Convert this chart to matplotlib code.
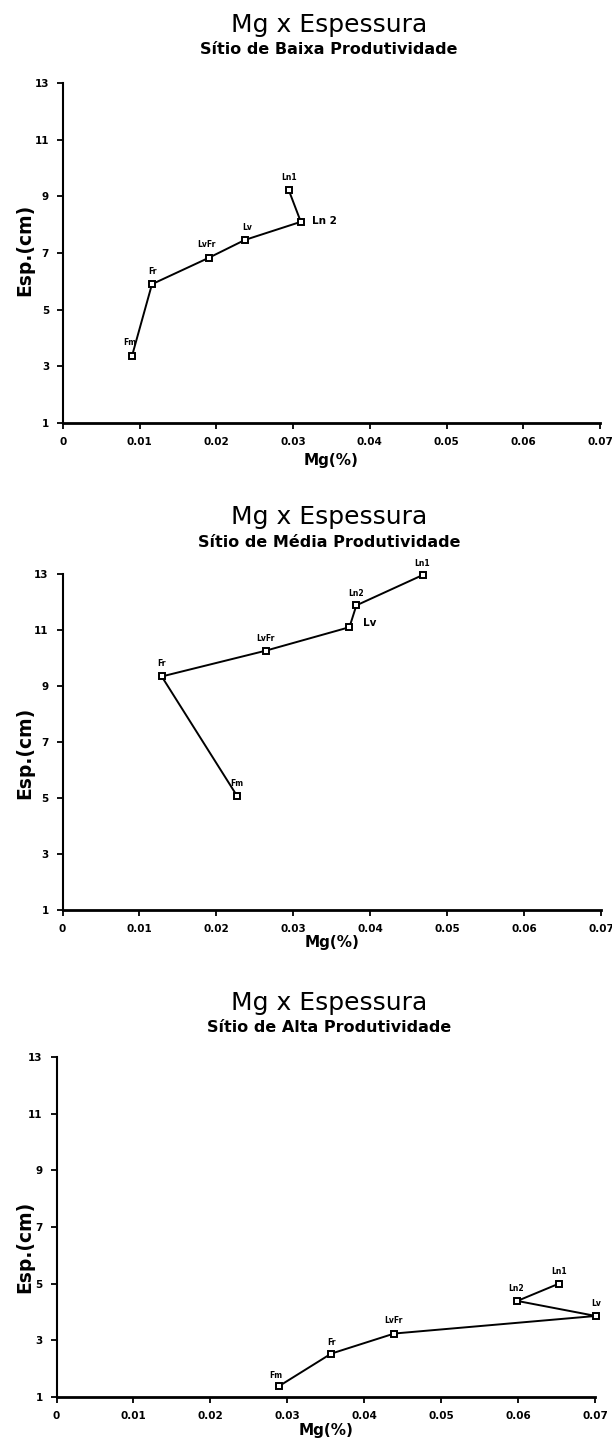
import matplotlib
matplotlib.use("Agg")
import matplotlib.pyplot as plt

W, H = 612, 1448

# --- data (order along the line) ---------------------------------------------
CAMADAS = ["Fm", "Fr", "LvFr", "Lv", "Ln2", "Ln1"]

MG_BAIXA = [0.0090, 0.0116, 0.0190, 0.0237, 0.0310, 0.0294]
ESP_BAIXA = [3.37, 5.90, 6.83, 7.46, 8.10, 9.24]

MG_MEDIA = [0.0227, 0.0129, 0.0264, 0.0373, 0.0382, 0.0468]
ESP_MEDIA = [5.07, 9.34, 10.26, 11.10, 11.88, 12.96]

MG_ALTA = [0.0289, 0.0357, 0.0439, 0.0701, 0.0599, 0.0653]
ESP_ALTA = [1.38, 2.53, 3.24, 3.86, 4.39, 5.00]

X_TICKS = [0, 0.01, 0.02, 0.03, 0.04, 0.05, 0.06, 0.07]
X_TICKLABELS = ["0", "0.01", "0.02", "0.03", "0.04", "0.05", "0.06", "0.07"]
Y_TICKS = [1, 3, 5, 7, 9, 11, 13]

TITULO = "Mg x Espessura"
SUBTITULOS = ["Sítio de Baixa Produtividade",
              "Sítio de Média Produtividade",
              "Sítio de Alta Produtividade"]

# label placement per panel: name -> (dx px, dy px, ha, fontsize, text)
LBL_BAIXA = {"Fm": (-2, 13, "center", 5.5, "Fm"), "Fr": (1, 13, "center", 5.5, "Fr"),
             "LvFr": (-2, 13, "center", 5.5, "LvFr"), "Lv": (2, 12, "center", 5.5, "Lv"),
             "Ln2": (11, 1, "left", 7.5, "Ln 2"), "Ln1": (1, 12, "center", 5.5, "Ln1")}
LBL_MEDIA = {"Fm": (0, 13, "center", 5.5, "Fm"), "Fr": (0, 13, "center", 5.5, "Fr"),
             "LvFr": (0, 12, "center", 5.5, "LvFr"), "Lv": (14, 4, "left", 7.5, "Lv"),
             "Ln2": (0, 12, "center", 5.5, "Ln2"), "Ln1": (0, 12, "center", 5.5, "Ln1")}
LBL_ALTA = {"Fm": (-3, 11, "center", 5.5, "Fm"), "Fr": (0, 11, "center", 5.5, "Fr"),
            "LvFr": (-1, 13, "center", 5.5, "LvFr"), "Lv": (0, 12, "center", 5.5, "Lv"),
            "Ln2": (-1, 12, "center", 5.5, "Ln2"), "Ln1": (0, 12, "center", 5.5, "Ln1")}


def axes_px(fig, left, right, top, bottom):
    return fig.add_axes([left / W, 1 - bottom / H, (right - left) / W, (bottom - top) / H])


def painel(fig, box, mg, esp, lbls, subtitulo, title_y, ylab_y, xlab_y):
    left, right, top, bottom = box
    ax = axes_px(fig, left, right, top, bottom)
    ax.plot(mg, esp, "-", color="black", lw=1.4, marker="s", ms=5,
            mfc="white", mec="black", mew=1.4, clip_on=False, zorder=3)
    for nome, x, y in zip(CAMADAS, mg, esp):
        dx, dy, ha, fs, txt = lbls[nome]
        ax.annotate(txt, (x, y), textcoords="offset pixels", xytext=(dx, dy),
                    ha=ha, va="center", fontsize=fs, fontweight="bold",
                    annotation_clip=False)

    ax.set_xlim(0, 0.07)
    ax.set_ylim(1, 13)
    ax.set_xticks(X_TICKS)
    ax.set_xticklabels(X_TICKLABELS)
    ax.set_yticks(Y_TICKS)
    for s in ("top", "right"):
        ax.spines[s].set_visible(False)
    ax.spines["left"].set_linewidth(1.5)
    ax.spines["bottom"].set_linewidth(2.0)
    ax.tick_params(length=4, width=1.3, labelsize=7.5, pad=6)
    for t in ax.get_xticklabels() + ax.get_yticklabels():
        t.set_fontweight("bold")

    cx = 329 / W
    fig.text(cx, 1 - title_y / H, TITULO, ha="center", va="center", fontsize=18)
    fig.text(cx, 1 - (title_y + 25) / H, subtitulo, ha="center", va="center",
             fontsize=11.5, fontweight="bold")
    fig.text(25 / W, 1 - ylab_y / H, "Esp.(cm)", ha="center", va="center",
             rotation=90, fontsize=13.5, fontweight="bold")
    fig.text((left + right) / 2 / W, 1 - xlab_y / H, "Mg(%)", ha="center",
             va="center", fontsize=11, fontweight="bold")
    return ax


fig = plt.figure(figsize=(W / 100, H / 100), dpi=100)

painel(fig, (63, 600, 83, 423), MG_BAIXA, ESP_BAIXA, LBL_BAIXA, SUBTITULOS[0],
       25, 250, 460)
painel(fig, (62.5, 601, 574, 910), MG_MEDIA, ESP_MEDIA, LBL_MEDIA, SUBTITULOS[1],
       517, 753, 942)
painel(fig, (56.5, 595, 1057, 1397), MG_ALTA, ESP_ALTA, LBL_ALTA, SUBTITULOS[2],
       1003, 1247, 1430)

fig.savefig("out.png", dpi=100)
